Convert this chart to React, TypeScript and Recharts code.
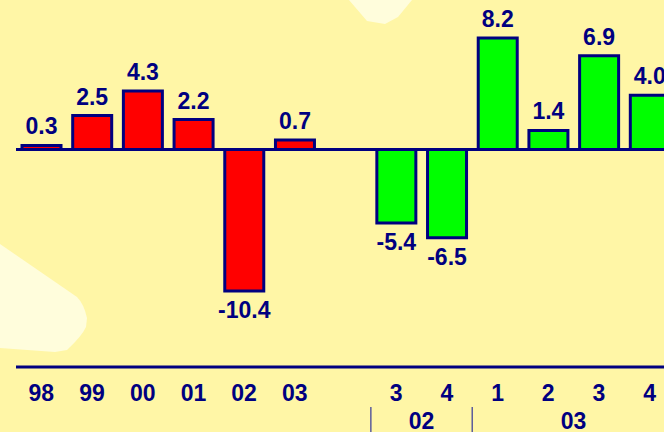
import { BarChart, Bar, XAxis, YAxis, Cell, LabelList, ReferenceLine } from "recharts";

// growth, annual 98-03 then quarters 3Q02 .. 4Q03 (blank slot between)
const periods = ["98", "99", "00", "01", "02", "03", "", "3", "4", "1", "2", "3", "4"];
const values: (number | null)[] = [0.3, 2.5, 4.3, 2.2, -10.4, 0.7, null, -5.4, -6.5, 8.2, 1.4, 6.9, 4.0];
const kinds = ["year", "year", "year", "year", "year", "year", "gap", "q", "q", "q", "q", "q", "q"];
const groups = ["", "", "", "", "", "", "", "02", "02", "03", "03", "03", "03"];

const data = periods.map((p, i) => ({
  key: `p${i}`,
  label: p,
  value: values[i],
  kind: kinds[i],
  group: groups[i],
}));

const W = 675;
const H = 432;
const LEFT = 16;
const PITCH = (W - LEFT) / data.length;
const NAVY = "#000080";
const BG = "#FFF6A6";
const LIGHT = "#FFFDDC";
const FONT = "'Liberation Sans', Arial, sans-serif";

const PeriodTick = (props: any) => {
  const { x, y, index } = props;
  const d = data[index];
  const g = d.group;
  const first = g !== "" && (index === 0 || data[index - 1].group !== g);
  let span = 0;
  if (first) {
    span = data.filter((e) => e.group === g).length;
  }
  return (
    <g>
      <text x={x} y={y + 34} textAnchor="middle" fill={NAVY} fontSize={23} fontWeight="bold" fontFamily={FONT}>
        {d.label}
      </text>
      {first && (
        <>
          <line x1={x - PITCH / 2} x2={x - PITCH / 2} y1={y + 40} y2={H} stroke="#5c5c9c" strokeWidth={1.5} />
          <text
            x={x + ((span - 1) * PITCH) / 2}
            y={y + 62}
            textAnchor="middle"
            fill={NAVY}
            fontSize={23}
            fontWeight="bold"
            fontFamily={FONT}
          >
            {g}
          </text>
        </>
      )}
    </g>
  );
};

const ValueLabel = (props: any) => {
  const { x, y, width, height, value } = props;
  if (value === null || value === undefined) return null;
  const v = Number(value);
  const yy = Number(y);
  const hh = Number(height);
  const top = Math.min(yy, yy + hh);
  const bottom = Math.max(yy, yy + hh);
  const ty = v >= 0 ? top - 11 : bottom + 27;
  return (
    <text
      x={Number(x) + Number(width) / 2}
      y={ty}
      textAnchor="middle"
      fill={NAVY}
      fontSize={23}
      fontWeight="bold"
      fontFamily={FONT}
    >
      {v.toFixed(1)}
    </text>
  );
};

export default function App() {
  return (
    <div style={{ position: "fixed", left: 0, top: 0, width: 664, height: 432, overflow: "hidden", background: BG }}>
      <svg width={664} height={432} style={{ position: "absolute", left: 0, top: 0 }}>
        <path d="M349 0 L367 21 L385 24 L398 17 L412 0 Z" fill={LIGHT} />
        <path
          d="M0 244 L77 297 Q84 304 87 318 L86 327 Q82 336 67 350 L55 352 L0 348 Z"
          fill={LIGHT}
        />
      </svg>
      <div style={{ position: "absolute", left: 0, top: 0 }}>
        <BarChart
          width={W}
          height={H}
          data={data}
          margin={{ top: 0, right: 0, left: LEFT, bottom: 0 }}
          barSize={39}
        >
          <XAxis
            dataKey="key"
            height={65}
            interval={0}
            tickSize={0}
            tickMargin={0}
            tickLine={false}
            axisLine={{ stroke: NAVY, strokeWidth: 3 }}
            tick={PeriodTick}
          />
          <YAxis hide domain={[-16, 11]} />
          <Bar dataKey="value" stroke={NAVY} strokeWidth={3} isAnimationActive={false}>
            {data.map((d) => (
              <Cell key={d.key} fill={d.kind === "year" ? "#FF0000" : "#00FF00"} />
            ))}
            <LabelList dataKey="value" content={ValueLabel} />
          </Bar>
          <ReferenceLine y={0} stroke={NAVY} strokeWidth={3} />
        </BarChart>
      </div>
    </div>
  );
}
